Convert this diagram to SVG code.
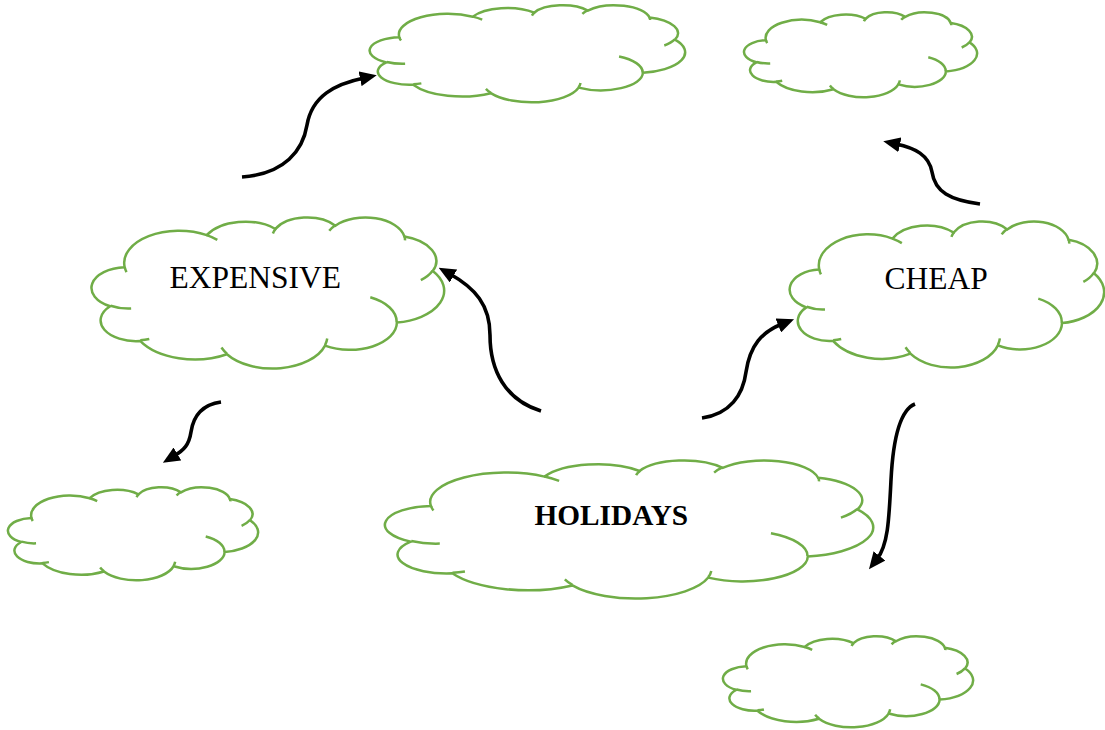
<svg xmlns="http://www.w3.org/2000/svg" xmlns:xlink="http://www.w3.org/1999/xlink" width="1105" height="730" viewBox="0 0 1105 730">
  <style>
    .cloud-outline { fill: #ffffff; stroke: #70AD47; stroke-width: 2.5; vector-effect: non-scaling-stroke; }
    .cloud-hooks { fill: none; stroke: #70AD47; stroke-width: 2.5; vector-effect: non-scaling-stroke; }
    .label { font-family: "Liberation Serif", "Times New Roman", serif; fill: #000000; }
    .connector { fill: none; stroke: #000000; stroke-width: 3.6; marker-end: url(#head); }
  </style>
  <defs>
    <!-- cloud outline on a 43200 x 43200 grid, stretched per node -->
    <g id="cloud">
      <path class="cloud-outline" vector-effect="non-scaling-stroke" d="M3900 14370 A6753 9190 0 0 1 14005 5202 A5333 7267 0 0 1 22455 3431 A4365 5945 0 0 1 29832 2480 A4857 6595 0 0 1 38318 5575 A5333 7273 0 0 1 41818 15458 A6775 9220 0 0 1 37404 30202 A5785 7867 0 0 1 28556 36812 A6752 9215 0 0 1 16481 39265 A7720 10543 0 0 1 5804 35471 A4360 5918 0 0 1 2113 25550 A4345 5945 0 0 1 3900 14370 Z"/>
      <path class="cloud-hooks" vector-effect="non-scaling-stroke" d="M4693 26177 A4345 5945 0 0 1 2160 25380 M6928 34899 A4360 5918 0 0 1 5819 35281 M16478 39090 A6752 9215 0 0 1 15809 37348 M28827 34751 A6752 9215 0 0 1 28561 36659 M34129 22954 A5785 7867 0 0 1 37380 30089 M41798 15354 A5333 7273 0 0 1 40349 18031 M38324 5426 A4857 6595 0 0 1 38400 6690 M29078 3952 A4857 6595 0 0 1 29820 2340 M22141 4720 A4365 5945 0 0 1 22500 3330 M14000 5192 A6753 9190 0 0 1 15300 6540 M4127 15789 A6753 9190 0 0 1 3900 14370"/>
    </g>
    <marker id="head" markerUnits="userSpaceOnUse" markerWidth="17" markerHeight="15" viewBox="0 0 17 15" refX="4" refY="7.5" orient="auto">
      <path d="M0 0 L17 7.5 L0 15 Z" fill="#000000"/>
    </marker>
  </defs>

  <rect x="0" y="0" width="1105" height="730" fill="#ffffff"/>

  <g id="connectors">
    <path class="connector" d="M242 177 C285 174 303 150 307 125 C312 96 335 84 364 78"/>
    <path class="connector" d="M541 411 C505 400 490 370 490 335 C490 305 475 288 450 274"/>
    <path class="connector" d="M702 418 C730 414 743 395 746 372 C750 345 762 332 782 324"/>
    <path class="connector" d="M980 204 C950 200 935 192 932 172 C929 155 915 148 896 144"/>
    <path class="connector" d="M221 402 C200 405 193 418 191 432 C189 445 184 450 174 456"/>
    <path class="connector" d="M915 404 C900 410 893 440 891 480 C889 520 888 545 877 559"/>
  </g>

  <g id="cloud-top-middle">
    <use href="#cloud" xlink:href="#cloud" transform="translate(371 5) scale(0.0072685 0.0022454)"/>
  </g>
  <g id="cloud-top-right">
    <use href="#cloud" xlink:href="#cloud" transform="translate(745 12) scale(0.0053704 0.0019676)"/>
  </g>
  <g id="expensive">
    <use href="#cloud" xlink:href="#cloud" transform="translate(93 217) scale(0.008125 0.0034954)"/>
    <text class="label" x="169.5" y="288" font-size="31.5">EXPENSIVE</text>
  </g>
  <g id="cheap">
    <use href="#cloud" xlink:href="#cloud" transform="translate(791 221) scale(0.0072454 0.0033796)"/>
    <text class="label" x="884.5" y="289" font-size="31.5">CHEAP</text>
  </g>
  <g id="holidays">
    <use href="#cloud" xlink:href="#cloud" transform="translate(387 460) scale(0.011250 0.0031944)"/>
    <text class="label" x="534.5" y="525" font-size="29.3" font-weight="bold">HOLIDAYS</text>
  </g>
  <g id="cloud-bottom-left">
    <use href="#cloud" xlink:href="#cloud" transform="translate(9 487) scale(0.005764 0.0021528)"/>
  </g>
  <g id="cloud-bottom-right">
    <use href="#cloud" xlink:href="#cloud" transform="translate(724 636) scale(0.005764 0.0021065)"/>
  </g>
</svg>
